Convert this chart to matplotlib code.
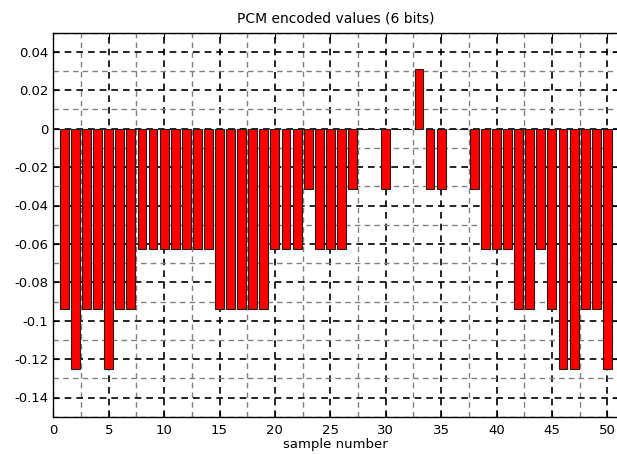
import matplotlib
matplotlib.use('Agg')
import matplotlib.pyplot as plt
import numpy as np
from matplotlib.ticker import MultipleLocator

plt.rcParams['font.family'] = ['DejaVu Sans']

# PCM encoded sample values (6 bits, step 1/32)
samples = list(range(1, 51))
levels = [-3, -4, -3, -3, -4, -3, -3, -2, -2, -2,
          -2, -2, -2, -2, -3, -3, -3, -3, -3, -2,
          -2, -2, -1, -2, -2, -2, -1, 0, 0, -1,
          0, 0, 1, -1, -1, 0, 0, -1, -2, -2,
          -2, -3, -3, -2, -3, -4, -4, -3, -3, -4]
values = [v / 32.0 for v in levels]
ytick_vals = [-0.14, -0.12, -0.1, -0.08, -0.06, -0.04, -0.02, 0, 0.02, 0.04]
ytick_labels = ['-0.14', '-0.12', '-0.1', '-0.08', '-0.06', '-0.04', '-0.02', '0', '0.02', '0.04']

W, H = 617, 454
fig = plt.figure(figsize=(W / 100, H / 100), dpi=100)
# the axes run a little past the right edge of the picture, as in the original
ax = fig.add_axes([53.3 / W, (H - 416.7) / H, (618.4 - 53.3) / W, (416.7 - 32.7) / H])

ax.bar(samples, values, width=0.8, color='#ff0000', edgecolor='#202020', linewidth=0.8, zorder=3)

ax.set_xlim(0, 51)
ax.set_ylim(-0.15, 0.05)
ax.set_xticks(np.arange(0, 51, 5))
ax.xaxis.set_minor_locator(MultipleLocator(2.5))
ax.yaxis.set_minor_locator(MultipleLocator(0.01))
ax.set_yticks(ytick_vals)
ax.set_yticklabels(ytick_labels)

ax.grid(which='major', color='black', linestyle=(0, (4, 3)), linewidth=1.2, zorder=0)
ax.grid(which='minor', color='#808080', linestyle=(0, (4, 3)), linewidth=1.0, zorder=0)
ax.set_axisbelow(True)

ax.tick_params(which='both', direction='in', labelsize=9.5, top=True, right=True)
ax.tick_params(which='major', length=4)
ax.tick_params(axis='x', which='major', pad=5)
ax.tick_params(which='minor', length=0)
for s in ax.spines.values():
    s.set_linewidth(1.0)
ax.spines['right'].set_visible(False)

ax.set_title('PCM encoded values (6 bits)', fontsize=10, pad=7)
ax.set_xlabel('sample number', fontsize=9.5, labelpad=1)

fig.savefig('out.png', dpi=100)
